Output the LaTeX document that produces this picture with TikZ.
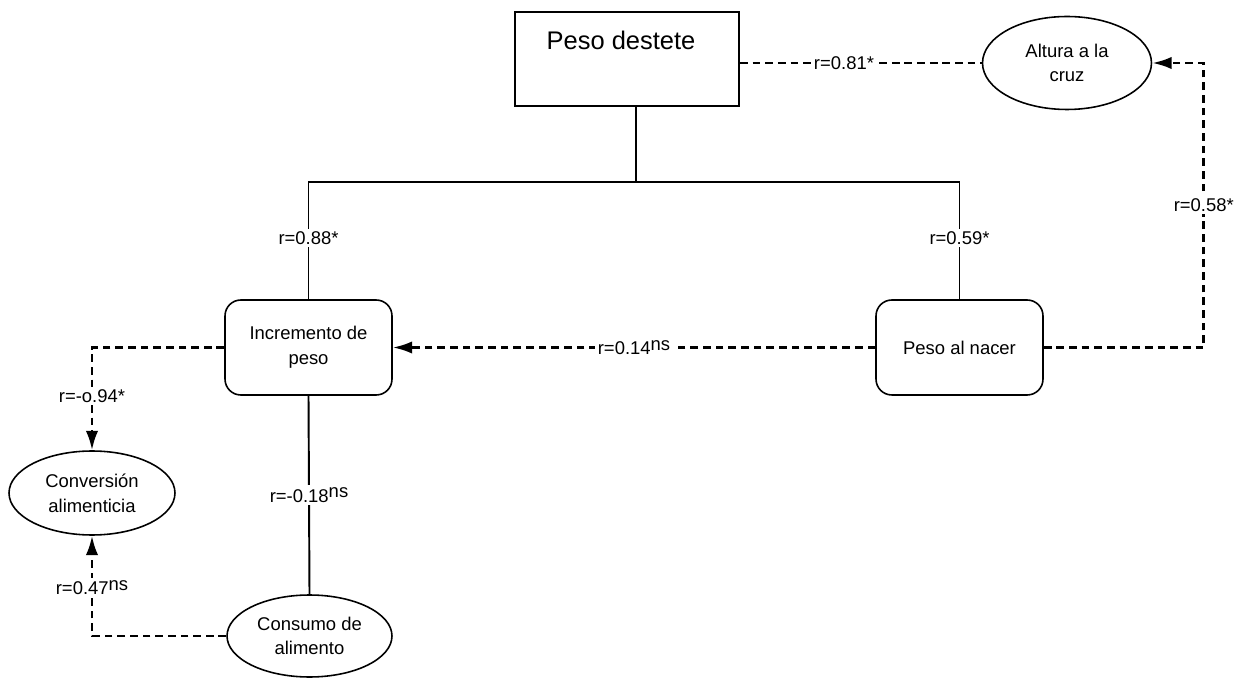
\documentclass[tikz,border=0pt]{standalone}
\usepackage{fontspec}
\setmainfont{Liberation Sans}
\usepackage{tikz}
\usetikzlibrary{shapes.geometric}
\usetikzlibrary{arrows.meta}
\newcommand{\nsup}{\raisebox{2.5pt}{ns}}

\begin{document}
\begin{tikzpicture}[x=0.02cm,y=-0.02cm,
		rbox/.style={shape=rectangle,draw=black,rounded corners=9pt,line width=0.9pt,minimum width=3.34cm,minimum height=1.9cm,align=center,font=\fontsize{10.5}{14}\selectfont},
		oval/.style={shape=ellipse,draw=black,line width=0.9pt,inner sep=0pt,align=center,font=\fontsize{10.5}{14}\selectfont},
		lbl/.style={fill=white,inner sep=1.5pt,font=\fontsize{10.5}{12}\selectfont},
		solidline/.style={line width=1.1pt},
		dotline/.style={line width=1.5pt,dash pattern=on 4.4pt off 2.8pt},
		dotarrow/.style={dotline,-{Latex[length=11pt,width=7pt]}}]
			\useasboundingbox (0,0) rectangle (1247,678);
			%% nodes
			\node[shape=rectangle,draw=black,line width=1.2pt,minimum width=4.48cm,minimum height=1.88cm] (destete) at (627,59) {};
			\node[font=\fontsize{14.5}{16}\selectfont] (desteteText) at (621,40) {Peso destete};
			\node[oval,minimum width=3.38cm,minimum height=1.86cm] (altura) at (1067,63) {Altura a la\\cruz};
			\node[rbox] (incremento) at (308.5,347.5) {Incremento de\\peso};
			\node[rbox] (nacer) at (959.5,347.5) {Peso al nacer};
			\node[oval,minimum width=3.32cm,minimum height=1.68cm] (conversion) at (92,493) {Conversión\\alimenticia};
			\node[oval,minimum width=3.3cm,minimum height=1.64cm] (consumo) at (309.5,636) {Consumo de\\alimento};
			\coordinate (bar) at (636,182);
			%% solid lines
			\draw[solidline] (destete.south -| bar) -- (bar);
			\draw[solidline] (bar) -| node[lbl,pos=0.74] {r=0.88*} (incremento.north);
			\draw[solidline] (bar) -| node[lbl,pos=0.74] {r=0.59*} (nacer.north);
			\draw[solidline] (incremento.south) -- node[lbl,pos=0.5] {r=-0.18\nsup} (consumo.north);
			%% dashed lines
			\draw[dotline] (destete.east |- altura.west) -- node[lbl,pos=0.43] {r=0.81*} (altura.west);
			\draw[dotarrow] (nacer.east) -- ++(160,0) |- node[lbl,pos=0.25] {r=0.58*} (altura.east);
			\draw[dotarrow] (nacer.west) -- node[lbl,pos=0.5] {r=0.14\nsup} (incremento.east);
			\draw[dotarrow] (incremento.west) -| node[lbl,pos=0.735] {r=-o.94*} (conversion.north);
			\draw[dotarrow] (consumo.west) -| node[lbl,pos=0.74] {r=0.47\nsup} (conversion.south);
		\end{tikzpicture}
\end{document}
